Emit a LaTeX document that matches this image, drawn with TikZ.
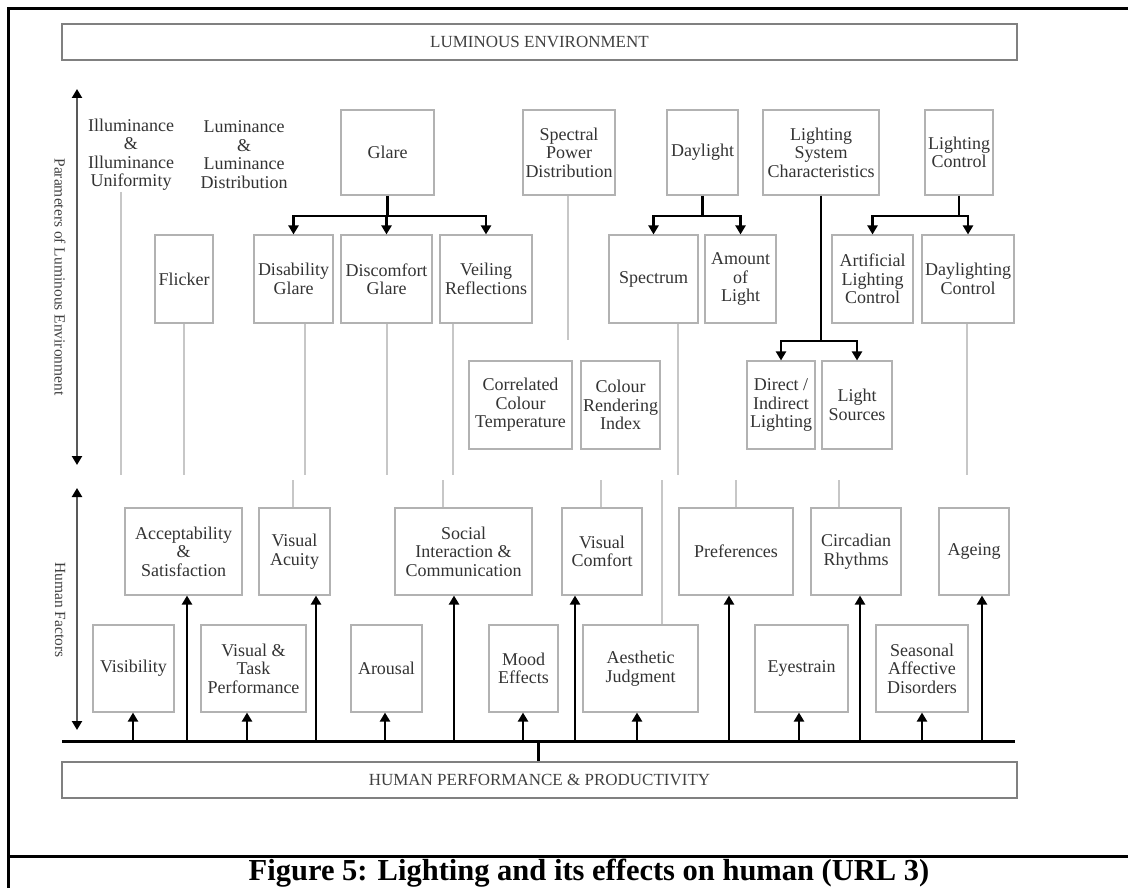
\documentclass[tikz,border=0pt]{standalone}
\usepackage{fontspec}
\setmainfont{Liberation Serif}
\usetikzlibrary{arrows.meta}
\tikzset{
  param box/.style={draw=black!30, line width=1.1pt, text=black!80, align=center,
    inner sep=1pt, font=\fontsize{18}{18.5}\selectfont},
  plain text/.style={param box, draw=none},
  wh/.style 2 args={minimum width=#1pt, minimum height=#2pt},
  band/.style={draw=black!50, line width=2.2pt, text=black!75,
    font=\fontsize{17}{18}\selectfont, minimum width=955pt, minimum height=36pt},
  link/.style={line width=2.2pt, -{Triangle[width=10pt,length=9pt]}},
  stem/.style={line width=2.2pt},
  trunk/.style={line width=3pt},
  faint link/.style={draw=black!22, line width=1.1pt},
  axis arrow/.style={draw=black!65, line width=2.4pt,
    {Triangle[width=10pt,length=9pt,color=black]}-{Triangle[width=10pt,length=9pt,color=black]}},
  side label/.style={rotate=-90, text=black!75, font=\fontsize{15.5}{16}\selectfont},
}

\begin{document}
\begin{tikzpicture}[x=1pt, y=-1pt]
  \useasboundingbox (0,0) rectangle (1128,888);
  % frame and caption
  \draw[line width=3pt] (1140,9) -- (8,9) -- (8,900);
  \draw[line width=3pt] (8,856) -- (1140,856);
  \node[font=\fontsize{30.5}{31}\selectfont\bfseries, anchor=base] (caption) at (589,880.5)
    {Figure 5: Lighting and its effects on human (URL 3)};

  % top and bottom bands
  \node[band] (lum) at (539.5,42) {LUMINOUS ENVIRONMENT};
  \node[band] (hpp) at (539.5,780) {HUMAN PERFORMANCE \& PRODUCTIVITY};

  % side axes
  \draw[axis arrow] (77,89) -- (77,465);
  \draw[axis arrow] (77,488) -- (77,730);
  \node[side label] (plab) at (60,277) {Parameters of Luminous Environment};
  \node[side label] (hlab) at (60,610) {Human Factors};

  % parameters, first row
  \node[plain text] (illum) at (131,154.5) {Illuminance\\\&\\Illuminance\\Uniformity};
  \node[plain text] (lumin) at (244,154.5) {Luminance\\\&\\Luminance\\Distribution};
  \foreach \nm/\px/\w/\txt in {glare/387.5/93/{Glare}, spd/569/92/{Spectral\\Power\\Distribution},
      daylight/702.5/71/{Daylight}, lsc/821/116/{Lighting\\System\\Characteristics},
      lctrl/959/68/{Lighting\\Control}}
    \node[param box, wh={\w}{85}] (\nm) at (\px,152.5) {\txt};

  % parameters, second row
  \foreach \nm/\px/\w/\txt in {flicker/184/58/{Flicker}, disab/293.5/79/{Disability\\Glare},
      discom/386.5/91/{Discomfort\\Glare}, veil/486/92/{Veiling\\Reflections},
      spectrum/653.5/89/{Spectrum}, amount/740.5/71/{Amount\\of\\Light},
      artctrl/872.5/81/{Artificial\\Lighting\\Control}, dayctrl/968/92/{Daylighting\\Control}}
    \node[param box, wh={\w}{88}] (\nm) at (\px,279) {\txt};

  % parameters, third row
  \foreach \nm/\px/\w/\txt in {cct/520.5/103/{Correlated\\Colour\\Temperature},
      cri/620.5/79/{Colour\\Rendering\\Index}, direct/781/68/{Direct /\\Indirect\\Lighting},
      sources/857/70/{Light\\Sources}}
    \node[param box, wh={\w}{88}] (\nm) at (\px,405) {\txt};

  % human factors, upper row
  \foreach \nm/\px/\w/\txt in {accept/183.5/117/{Acceptability\\\&\\Satisfaction},
      acuity/294.5/71/{Visual\\Acuity}, social/463.5/137/{Social\\Interaction \&\\Communication},
      vcomfort/602/80/{Visual\\Comfort}, prefs/736/114/{Preferences},
      circadian/856/90/{Circadian\\Rhythms}, ageing/974/70/{Ageing}}
    \node[param box, wh={\w}{87}] (\nm) at (\px,551.5) {\txt};

  % human factors, lower row
  \foreach \nm/\px/\w/\txt in {visibility/133.5/81/{Visibility},
      vtask/253.5/105/{Visual \&\\Task\\Performance}, arousal/386.5/71/{Arousal},
      mood/523.5/69/{Mood\\Effects}, aesthetic/640.5/115/{Aesthetic\\Judgment},
      eyestrain/801.5/93/{Eyestrain}, seasonal/922/92/{Seasonal\\Affective\\Disorders}}
    \node[param box, wh={\w}{87}] (\nm) at (\px,668.5) {\txt};

  % faint links between the two halves
  \foreach \px/\nd in {121/illum, 184/flicker, 305/disab, 387/discom, 453/veil,
      678/spectrum, 967/dayctrl}
    \draw[faint link] (\nd.south -| \px,0) -- (\px,475);
  \draw[faint link] (spd.south -| 568,0) -- (568,340);
  \foreach \px/\nd in {293/acuity, 443/social, 601/vcomfort, 662/aesthetic,
      736/prefs, 839/circadian}
    \draw[faint link] (\px,480) -- (\px,0 |- \nd.north);

  % branching arrows
  \coordinate (gj) at (387.5,216);
  \coordinate (dj) at (702.5,216);
  \coordinate (cj) at (959,216);
  \coordinate (sj) at (821,341);
  \draw[stem] (glare.south) -- (gj);
  \draw[stem] (daylight.south) -- (dj);
  \draw[stem] (lctrl.south) -- (cj);
  \draw[stem] (lsc.south) -- (sj);
  \foreach \nd in {disab,discom,veil} \draw[link] (gj) -| (\nd.north);
  \foreach \nd in {spectrum,amount} \draw[link] (dj) -| (\nd.north);
  \foreach \nd in {artctrl,dayctrl} \draw[link] (cj) -| (\nd.north);
  \foreach \nd in {direct,sources} \draw[link] (sj) -| (\nd.north);

  % bus to human factors
  \coordinate (busL) at (62,741);
  \coordinate (busR) at (1015,741);
  \draw[trunk] (busL) -- (busR);
  \draw[trunk] (538,741) -- (538,0 |- hpp.north);
  \foreach \px/\nd in {133/visibility, 247/vtask, 385/arousal, 523/mood, 637/aesthetic,
      799/eyestrain, 922/seasonal, 187/accept, 316/acuity, 454/social, 575/vcomfort,
      729/prefs, 860/circadian, 982/ageing}
    \draw[link] (\px,741) -- (\px,0 |- \nd.south);
\end{tikzpicture}
\end{document}
